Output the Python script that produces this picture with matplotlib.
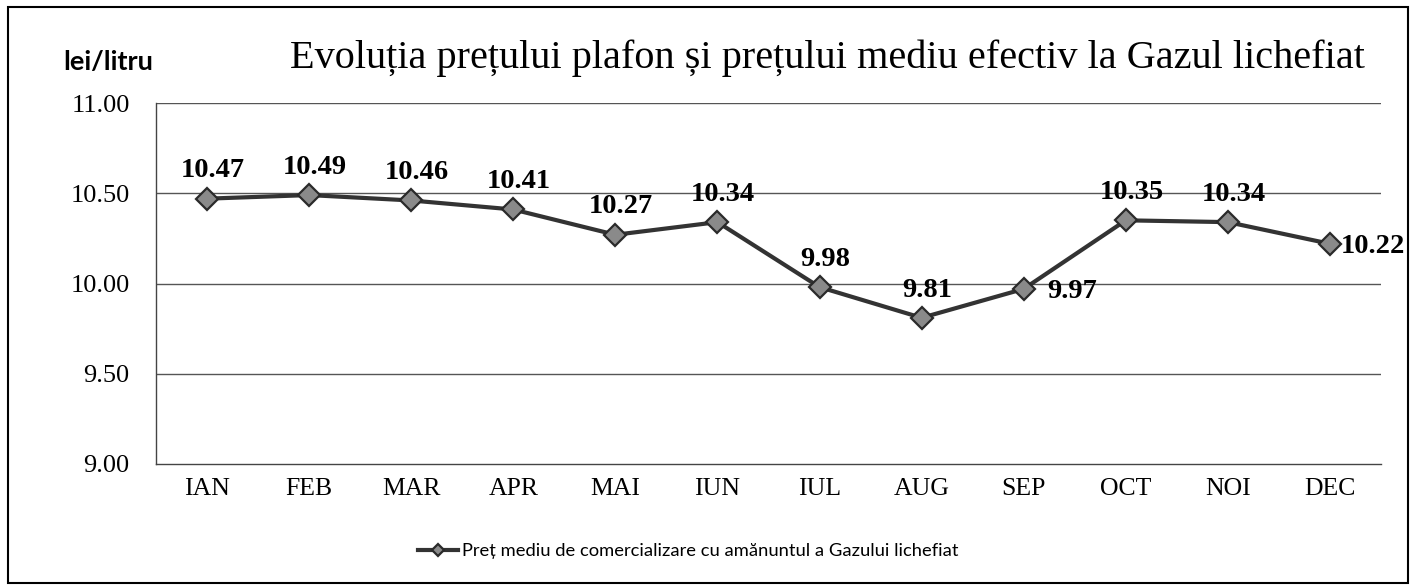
import matplotlib
matplotlib.use("Agg")
import matplotlib.pyplot as plt
from matplotlib.patches import Rectangle

months = ["IAN", "FEB", "MAR", "APR", "MAI", "IUN", "IUL", "AUG", "SEP", "OCT", "NOI", "DEC"]
prices = [10.47, 10.49, 10.46, 10.41, 10.27, 10.34, 9.98, 9.81, 9.97, 10.35, 10.34, 10.22]
yticks = [9.00, 9.50, 10.00, 10.50, 11.00]
title = "Evoluția prețului plafon și prețului mediu efectiv la Gazul lichefiat"
ylabel = "lei/litru"
legend_label = "Preț mediu de comercializare cu amănuntul a Gazului lichefiat"
right_labels = {"SEP": 17, "DEC": 8}

W, H = 1416, 586
fig = plt.figure(figsize=(W / 100, H / 100), dpi=100)
ax = fig.add_axes([156 / W, 1 - 464 / H, (1381 - 156) / W, (464 - 103) / H])

serif = "Liberation Serif"
sans = "Lato"

x = list(range(len(months)))
line, = ax.plot(x, prices, color="#333333", lw=3.0, marker="D", markersize=11.5,
                markerfacecolor="#8a8a8a", markeredgecolor="#2a2a2a", markeredgewidth=1.6,
                zorder=3, label=legend_label)

for i, (m, v) in enumerate(zip(months, prices)):
    if m in right_labels:
        ax.annotate(f"{v:.2f}", (i, v), xytext=(right_labels[m], -2), textcoords="offset points",
                    ha="left", va="center", fontfamily=serif, fontweight="bold",
                    fontsize=20.5, color="black", zorder=4)
    else:
        ax.annotate(f"{v:.2f}", (i, v), xytext=(4, 11), textcoords="offset points",
                    ha="center", va="bottom", fontfamily=serif, fontweight="bold",
                    fontsize=20.5, color="black", zorder=4)

ax.set_xlim(-0.5, len(months) - 0.5)
ax.set_ylim(9.0, 11.0)
ax.set_yticks(yticks)
ax.set_yticklabels([f"{t:.2f}" for t in yticks], fontfamily=serif, fontsize=19)
ax.set_xticks(x)
ax.set_xticklabels(months, fontfamily=serif, fontsize=18.5)
ax.tick_params(axis="y", length=0, pad=19)
ax.tick_params(axis="x", length=0, pad=10)
for t in yticks[1:]:
    ax.axhline(t, color="#555555", lw=1.0, zorder=1)
for s in ["top", "right"]:
    ax.spines[s].set_visible(False)
for s in ["left", "bottom"]:
    ax.spines[s].set_color("#444444")
    ax.spines[s].set_linewidth(1.0)

fig.text(827 / W, 1 - 58 / H, title, ha="center", va="center",
         fontfamily=serif, fontsize=29, color="black")
fig.text(63 / W, 1 - 62 / H, ylabel, ha="left", va="center",
         fontfamily=sans, fontweight="bold", fontsize=19.5, color="black")

leg = fig.legend(handles=[line], loc="center", bbox_to_anchor=(688 / W, 1 - 551 / H),
                 frameon=False, prop={"family": sans, "size": 13.2},
                 handlelength=2.2, handletextpad=0.2, markerscale=0.5)

fig.patches.append(Rectangle((8 / W, 1 - 583 / H), (1408 - 8) / W, (583 - 7) / H,
                             transform=fig.transFigure, fill=False,
                             edgecolor="black", lw=1.5))

fig.savefig("out.png", dpi=100)
